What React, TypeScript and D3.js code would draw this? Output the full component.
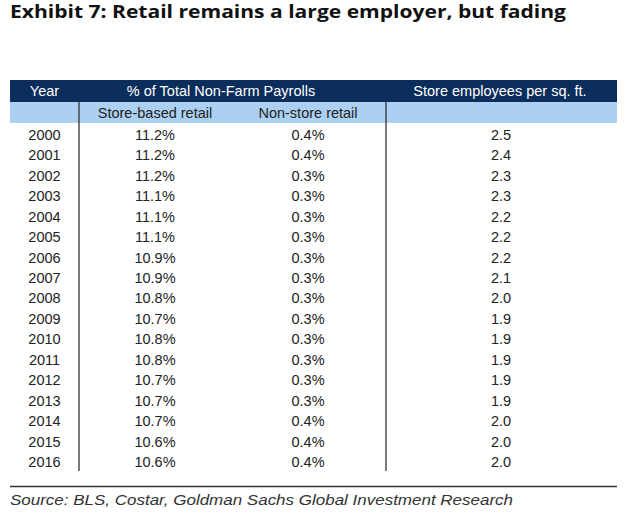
import React from "react";
import * as d3 from "d3";

const years = ["2000","2001","2002","2003","2004","2005","2006","2007","2008","2009","2010","2011","2012","2013","2014","2015","2016"];
const storeBased = [11.2,11.2,11.2,11.1,11.1,11.1,10.9,10.9,10.8,10.7,10.8,10.8,10.7,10.7,10.7,10.6,10.6];
const nonStore = [0.4,0.4,0.3,0.3,0.3,0.3,0.3,0.3,0.3,0.3,0.3,0.3,0.3,0.3,0.4,0.4,0.4];
const empPerSqFt = [2.5,2.4,2.3,2.3,2.2,2.2,2.2,2.1,2.0,1.9,1.9,1.9,1.9,1.9,2.0,2.0,2.0];

const title = "Exhibit 7: Retail remains a large employer, but fading";
const source = "Source: BLS, Costar, Goldman Sachs Global Investment Research";
const headers = ["Year", "% of Total Non-Farm Payrolls", "Store employees per sq. ft."];
const subHeaders = ["Store-based retail", "Non-store retail"];

export default function App() {
  const W = 640, H = 516;
  const font = "'Liberation Sans', Arial, Helvetica, sans-serif";
  const y = d3.scalePoint<string>().domain(years).range([134.5, 462]);
  const colX = { year: 44.5, store: 155, non: 308, emp: 501 };
  const fmtPct = (v: number) => d3.format(".1f")(v) + "%";
  const fmt1 = d3.format(".1f");
  const textColor = "#222";
  return (
    <svg width={W} height={H} style={{ position: "absolute", left: 0, top: 0, background: "#fff" }} fontFamily={font}>
      <text x={10} y={18} fontSize={18} fontWeight="bold" fill="#111" fontFamily="'Open Sans', 'Noto Sans', sans-serif"
        textLength={556} lengthAdjust="spacingAndGlyphs">{title}</text>
      <rect x={10} y={80} width={607} height={22} fill="#0b2d5c" />
      <rect x={10} y={102} width={607} height={21} fill="#abd0f1" />
      <text x={colX.year} y={96} fontSize={14.5} fill="#fff" textAnchor="middle">{headers[0]}</text>
      <text x={221} y={96} fontSize={14.5} fill="#fff" textAnchor="middle">{headers[1]}</text>
      <text x={500} y={96} fontSize={14.5} fill="#fff" textAnchor="middle">{headers[2]}</text>
      <text x={colX.store} y={117.5} fontSize={14.5} fill={textColor} textAnchor="middle">{subHeaders[0]}</text>
      <text x={colX.non} y={117.5} fontSize={14.5} fill={textColor} textAnchor="middle">{subHeaders[1]}</text>
      <line x1={79} x2={79} y1={102} y2={471} stroke="#333" strokeWidth={1.3} />
      <line x1={386} x2={386} y1={102} y2={471} stroke="#333" strokeWidth={1.3} />
      {years.map((yr, i) => {
        const cy = (y(yr) as number) + 5.2;
        return (
          <g key={yr} fontSize={14.5} fill={textColor} textAnchor="middle">
            <text x={colX.year} y={cy}>{yr}</text>
            <text x={colX.store} y={cy}>{fmtPct(storeBased[i])}</text>
            <text x={colX.non} y={cy}>{fmtPct(nonStore[i])}</text>
            <text x={colX.emp} y={cy}>{fmt1(empPerSqFt[i])}</text>
          </g>
        );
      })}
      <line x1={10} x2={617} y1={486.5} y2={486.5} stroke="#333" strokeWidth={1.4} />
      <text x={10} y={505} fontSize={15} fontStyle="italic" fill="#333"
        textLength={503} lengthAdjust="spacingAndGlyphs">{source}</text>
    </svg>
  );
}
